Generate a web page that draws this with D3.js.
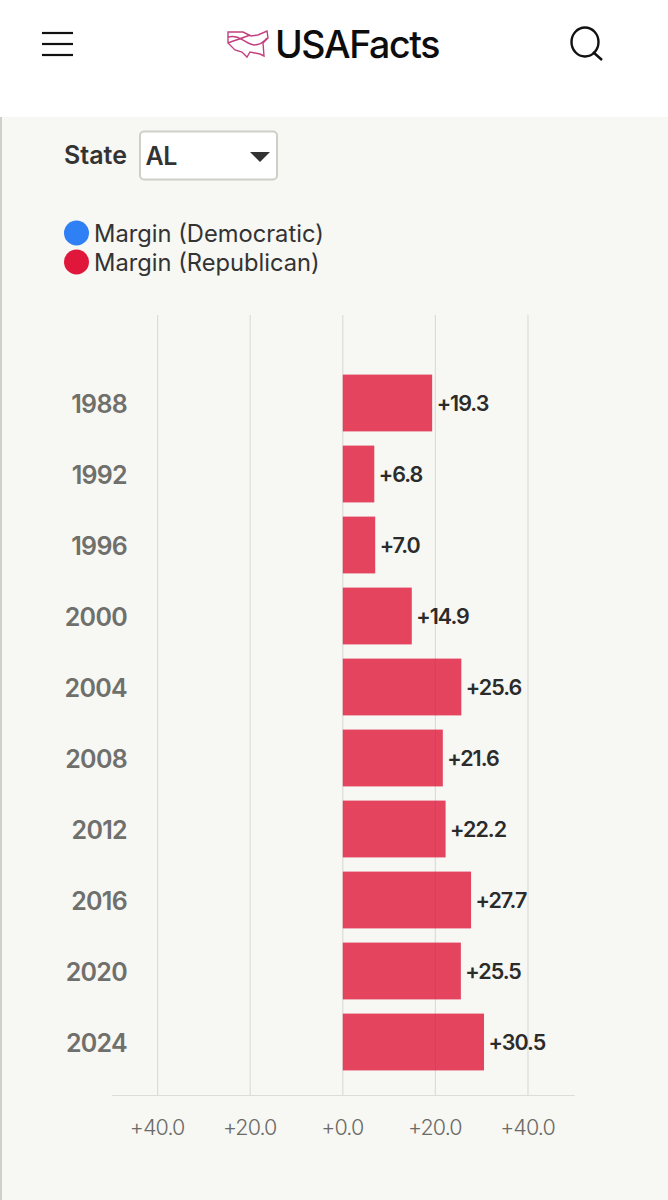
<!DOCTYPE html>
<html>
<head>
<meta charset="utf-8">
<script src="https://cdn.jsdelivr.net/npm/d3@7"></script>
<style>
html, body { margin: 0; padding: 0; background: #fff; }
svg { display: block; font-family: Inter, sans-serif; }
</style>
</head>
<body>
<div id="chart"></div>
<script>
// Chart values
const years = ["1988", "1992", "1996", "2000", "2004", "2008", "2012", "2016", "2020", "2024"];
const margins = [19.3, 6.8, 7.0, 14.9, 25.6, 21.6, 22.2, 27.7, 25.5, 30.5];
const xTicks = [-40, -20, 0, 20, 40];
const legendLabels = ["Margin (Democratic)", "Margin (Republican)"];
const legendColors = ["#2f7ff5", "#e0173a"];

const svg = d3.select("#chart").append("svg")
    .attr("width", 668)
    .attr("height", 1200);

// page background
svg.append("rect").attr("x", 0).attr("y", 117).attr("width", 668).attr("height", 1083).attr("fill", "#f7f7f3");
svg.append("rect").attr("x", 0).attr("y", 117).attr("width", 2).attr("height", 1083).attr("fill", "#cfcfca");

// header
const header = svg.append("g");
header.selectAll("line.menu").data([33, 44, 55]).join("line")
    .attr("x1", 42).attr("x2", 73)
    .attr("y1", d => d).attr("y2", d => d)
    .attr("stroke", "#111").attr("stroke-width", 2.2);
header.append("ellipse").attr("cx", 585).attr("cy", 42).attr("rx", 13.5).attr("ry", 14.5)
    .attr("fill", "none").attr("stroke", "#111").attr("stroke-width", 2.4);
header.append("line").attr("x1", 593).attr("y1", 52).attr("x2", 602).attr("y2", 60)
    .attr("stroke", "#111").attr("stroke-width", 2.4);
header.append("text").attr("x", 275).attr("y", 58)
    .attr("font-size", 37.5).attr("font-weight", 550).attr("letter-spacing", -1.4)
    .attr("fill", "#0d0d0d").text("USAFacts");

// logo outline, rough map shape
const logo = header.append("g").attr("fill", "none").attr("stroke", "#c2407f").attr("stroke-width", 1.4);
logo.append("path").attr("d", "M228 32 L243 32 L251 36 L258 35 L267 31 L268 38 L263 43 L264 56 L260 54 L250 52 L247 57 L242 52 L235 50 L228 43 Z");
logo.append("path").attr("d", "M228 37 C240 34 245 44 254 45 C259 45 264 42 267 38");
logo.append("path").attr("d", "M228 43 C236 40 243 38 250 35");

// state picker
svg.append("text").attr("x", 64).attr("y", 164)
    .attr("font-size", 25).attr("font-weight", 600).attr("fill", "#333").text("State");
svg.append("rect").attr("x", 140).attr("y", 131.5).attr("width", 137).attr("height", 48).attr("rx", 4)
    .attr("fill", "#fff").attr("stroke", "#cfcfca").attr("stroke-width", 2);
svg.append("text").attr("x", 145.5).attr("y", 165)
    .attr("font-size", 25).attr("font-weight", 600).attr("letter-spacing", -0.5).attr("fill", "#333").text("AL");
svg.append("path").attr("d", "M250 152 L270 152 L260 162 Z").attr("fill", "#333");

// legend
const legend = svg.selectAll("g.legend").data(legendLabels).join("g")
    .attr("class", "legend")
    .attr("transform", (d, i) => `translate(0,${233 + i * 29})`);
legend.append("ellipse").attr("cx", 76.5).attr("cy", 0).attr("rx", 12.5).attr("ry", 12.5)
    .attr("fill", (d, i) => legendColors[i]);
legend.append("text").attr("x", 94).attr("y", 9)
    .attr("font-size", 23.7).attr("fill", "#333").text(d => d);

// scales
const x = d3.scaleLinear().domain([-50, 50]).range([111.3, 574.3]);
const y = d3.scaleBand().domain(years).range([367.5, 1077.5]).paddingInner(0.2).paddingOuter(0.1);

const gridTop = 315, gridBottom = 1095;

// grid lines
svg.append("g").selectAll("line").data(xTicks).join("line")
    .attr("x1", d => x(d)).attr("x2", d => x(d))
    .attr("y1", gridTop).attr("y2", gridBottom)
    .attr("stroke", "#dcdcd8").attr("stroke-width", 1.2);

// bars
svg.append("g").selectAll("rect").data(margins).join("rect")
    .attr("x", x(0))
    .attr("y", (d, i) => y(years[i]))
    .attr("width", d => x(d) - x(0))
    .attr("height", y.bandwidth())
    .attr("fill", legendColors[1])
    .attr("fill-opacity", 0.8);

// value labels
svg.append("g").selectAll("text").data(margins).join("text")
    .attr("x", d => x(d) + 4.5)
    .attr("y", (d, i) => y(years[i]) + y.bandwidth() / 2 + 7.5)
    .attr("font-size", 21.5).attr("font-weight", 600).attr("letter-spacing", -1)
    .attr("fill", "#2b2b2b")
    .text(d => "+" + d.toFixed(1));

// year labels
const yAxis = svg.append("g").attr("transform", "translate(127,1.5)")
    .call(d3.axisLeft(y).tickSize(0).tickPadding(0));
yAxis.select(".domain").remove();
yAxis.selectAll("text")
    .attr("font-family", "Inter, sans-serif")
    .attr("font-size", 25).attr("font-weight", 600).attr("letter-spacing", -0.7)
    .attr("fill", "#6f6f6b");

// x axis, both sides shown as positive
const xAxis = svg.append("g").attr("transform", `translate(0,${gridBottom})`)
    .call(d3.axisBottom(x).tickValues(xTicks).tickSize(0).tickPadding(25)
        .tickFormat(d => "+" + Math.abs(d).toFixed(1)));
xAxis.select(".domain").attr("stroke", "#dcdcd8").attr("stroke-width", 1.2);
xAxis.selectAll("text")
    .attr("font-family", "Inter, sans-serif")
    .attr("dx", -1)
    .attr("font-size", 21.5).attr("font-weight", 350).attr("letter-spacing", -0.9)
    .attr("fill", "#6a6a66");
</script>
</body>
</html>
